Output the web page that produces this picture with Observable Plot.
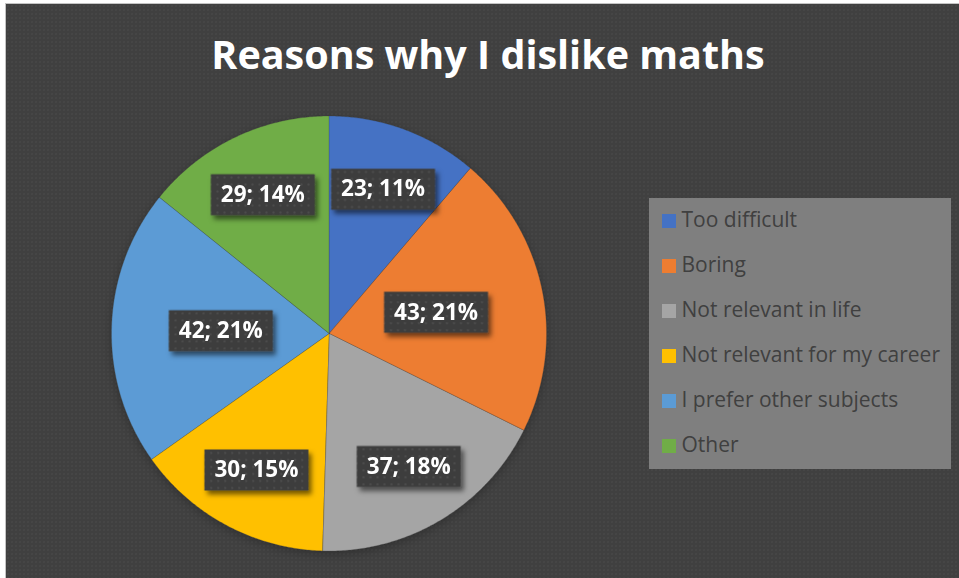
<!DOCTYPE html>
<html>
<head>
<meta charset="utf-8">
<script src="https://cdn.jsdelivr.net/npm/d3@7"></script>
<script src="https://cdn.jsdelivr.net/npm/@observablehq/plot@0.6"></script>
<style>
  html, body { margin: 0; padding: 0; background: #ffffff; width: 959px; height: 578px; overflow: hidden; font-family: "Open Sans", sans-serif; }
  #frame { position: absolute; left: 5px; top: 3px; width: 954px; height: 575px; box-sizing: border-box;
           background-color: #404040; border-left: 1px solid #c4c4c4; border-top: 1px solid #c4c4c4;
           background-image: radial-gradient(#464646 0.7px, transparent 0.9px); background-size: 4px 4px; }
  #title { position: absolute; left: 0; top: 34.9px; width: 976px; text-align: center; color: #ffffff;
           font-weight: 700; font-size: 39.5px; line-height: 39.5px; white-space: nowrap; }
  #plot { position: absolute; left: 0; top: 0; }
  #legend { position: absolute; left: 649px; top: 198px; width: 302px; height: 271px; background: #7f7f7f; }
  .sw { position: absolute; left: 13px; width: 14px; height: 14px; }
  .lt { position: absolute; left: 32.5px; font-size: 21px; line-height: 21px; color: #404040; white-space: nowrap; }
</style>
</head>
<body>
<div id="frame"></div>
<div id="title">Reasons why I dislike maths</div>
<div id="plot"></div>
<div id="legend"></div>
<script>
// ---- data ----
const categories = ["Too difficult", "Boring", "Not relevant in life", "Not relevant for my career", "I prefer other subjects", "Other"];
const values = [23, 43, 37, 30, 42, 29];
const colors = ["#4472C4", "#ED7D31", "#A5A5A5", "#FFC000", "#5B9BD5", "#70AD47"];

// ---- derived tables ----
const total = d3.sum(values);
const arcs = d3.pie().sort(null).value(d => d)(values);

const sectorPoints = [];
arcs.forEach((a, i) => {
  const n = Math.max(2, Math.ceil((a.endAngle - a.startAngle) / (Math.PI / 360)));
  for (let k = 0; k <= n; k++) {
    const t = a.startAngle + (a.endAngle - a.startAngle) * k / n;
    sectorPoints.push({category: categories[i], x: Math.sin(t), y: Math.cos(t)});
  }
});

const labels = arcs.map((a, i) => {
  const mid = (a.startAngle + a.endAngle) / 2;
  const rr = values[i] >= 40 ? 0.5 : 0.71; // best-fit style placement
  return {
    category: categories[i],
    x: rr * Math.sin(mid),
    y: rr * Math.cos(mid),
    text: `${values[i]}; ${Math.round(values[i] / total * 100)}%`
  };
});

// fixed-size label box symbol
const boxSymbol = { draw(ctx) { ctx.rect(-52, -20.5, 104, 41); } };

const plot = Plot.plot({
  width: 959,
  height: 578,
  style: { background: "transparent", overflow: "visible" },
  x: { domain: [-1, 1], range: [111.5, 546.5], axis: null },
  y: { domain: [-1, 1], range: [551, 116], axis: null },
  color: { domain: categories, range: colors },
  marks: [
    Plot.area(sectorPoints, {
      x1: "x", y1: "y", x2: () => 0, y2: () => 0,
      z: "category", fill: "category",
      stroke: "#3a3a3a", strokeOpacity: 0.35, strokeWidth: 0.7
    }),
    Plot.dot(labels, { x: "x", y: "y", symbol: boxSymbol, r: 10, fill: "url(#lblDots)", stroke: "none" }),
    Plot.text(labels, {
      x: "x", y: "y", text: "text", fill: "#ffffff",
      fontSize: 22.5, fontWeight: 700, fontFamily: "Open Sans, sans-serif"
    })
  ]
});

const svg = d3.select(plot);
const defs = svg.insert("defs", ":first-child");
const pat = defs.append("pattern").attr("id", "lblDots").attr("patternUnits", "userSpaceOnUse")
  .attr("width", 7).attr("height", 7);
pat.append("rect").attr("width", 7).attr("height", 7).attr("fill", "#3d3d3d");
pat.append("rect").attr("x", 3).attr("y", 3).attr("width", 1.5).attr("height", 1.5).attr("fill", "#5a5a5a");
const sh = defs.append("filter").attr("id", "boxShadow").attr("x", "-30%").attr("y", "-30%").attr("width", "160%").attr("height", "180%");
sh.append("feDropShadow").attr("dx", 3).attr("dy", 4).attr("stdDeviation", 2.5).attr("flood-color", "#000").attr("flood-opacity", 0.55);
const ps = defs.append("filter").attr("id", "pieShadow").attr("x", "-10%").attr("y", "-10%").attr("width", "120%").attr("height", "125%");
ps.append("feDropShadow").attr("dx", 0).attr("dy", 3).attr("stdDeviation", 5).attr("flood-color", "#000").attr("flood-opacity", 0.25);
svg.selectAll('g[aria-label="dot"]').attr("filter", "url(#boxShadow)");
svg.selectAll('g[aria-label="area"]').attr("filter", "url(#pieShadow)");

document.getElementById("plot").appendChild(plot);

// ---- legend ----
const legend = d3.select("#legend");
categories.forEach((c, i) => {
  legend.append("div").attr("class", "sw").style("top", (15.7 + 45 * i) + "px").style("background", colors[i]);
  legend.append("div").attr("class", "lt").style("top", (11.0 + 45 * i) + "px").text(c);
});
</script>
</body>
</html>
